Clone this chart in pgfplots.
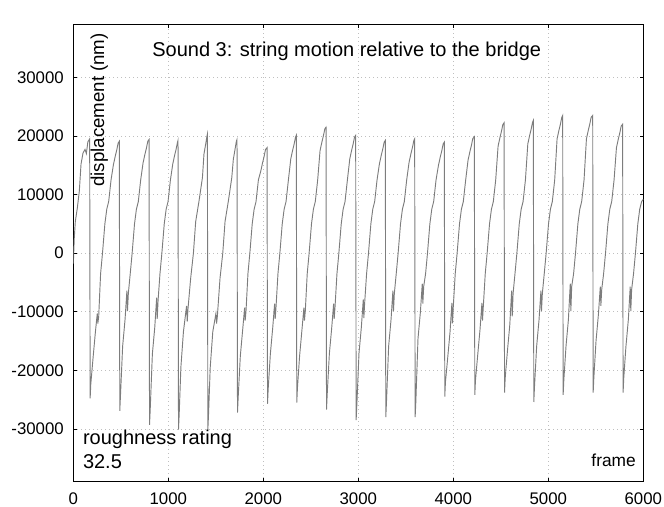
\documentclass[border=0pt]{standalone}
\usepackage{pgfplots}
\pgfplotsset{compat=1.18}
\usepackage{fontspec}
\setmainfont{Liberation Sans}

% string displacement relative to the bridge, one value per frame sample
\pgfplotstableread{
frame disp
0 -1800
10 2600
21 5400
42 7700
63 10600
81 15200
102 17100
123 17700
137 17000
153 19000
172 19500
177 -24800
184 -22300
207 -18000
232 -13500
252 -10300
258 -12000
267 -10800
287 -3500
307 0
332 5000
352 7500
372 8800
397 12500
422 15100
442 16600
457 17600
472 18800
484 19100
489 -26900
496 -24400
519 -15900
544 -11400
564 -6400
570 -9900
579 -6900
599 -3500
619 0
644 5000
664 7500
684 8800
709 12500
734 15400
754 16900
769 17900
784 19100
797 19400
802 -29300
809 -26800
832 -17200
857 -12700
877 -7600
883 -11200
892 -8100
912 -3500
932 0
957 5000
977 7500
997 8800
1022 12500
1047 15250
1067 16750
1082 17750
1097 18950
1102 19250
1107 -30100
1114 -27600
1132 -19500
1159 -13400
1192 -9000
1199 -11700
1207 -9500
1235 -4300
1264 0
1288 5400
1323 8900
1359 12900
1375 16900
1393 18600
1407 20000
1411 20300
1416 -30100
1423 -27600
1441 -19500
1468 -13400
1501 -10300
1508 -12000
1516 -10800
1544 -4300
1573 0
1597 5400
1632 8900
1668 12900
1684 16000
1702 17700
1716 19100
1723 19400
1728 -27200
1735 -24700
1758 -17500
1783 -13000
1803 -9300
1809 -11500
1818 -9800
1838 -3500
1858 0
1883 5000
1903 7500
1923 8800
1948 12500
1973 14000
1993 15500
2008 16500
2023 17700
2039 18000
2044 -25700
2051 -23200
2074 -17200
2099 -12700
2119 -8600
2125 -11200
2134 -9100
2154 -3500
2174 0
2199 5000
2219 7500
2239 8800
2264 12500
2289 16100
2309 17600
2324 18600
2339 19800
2347 20100
2352 -25500
2359 -23000
2382 -17500
2407 -13000
2427 -9300
2433 -11500
2442 -9800
2462 -3500
2482 0
2507 5000
2527 7500
2547 8800
2572 12500
2597 17500
2617 19000
2632 20000
2647 21200
2660 21500
2665 -26700
2672 -24200
2695 -17200
2720 -12700
2740 -8600
2746 -11200
2755 -9100
2775 -3500
2795 0
2820 5000
2840 7500
2860 8800
2885 12500
2910 16100
2930 17600
2945 18600
2960 19800
2972 20100
2977 -28500
2984 -26000
3007 -17100
3032 -12600
3052 -7900
3058 -11100
3067 -8400
3087 -3500
3107 0
3132 5000
3152 7500
3172 8800
3197 12500
3222 15250
3242 16750
3257 17750
3272 18950
3284 19250
3289 -28000
3296 -25500
3319 -15900
3344 -11400
3364 -6400
3370 -9900
3379 -6900
3399 -3500
3419 0
3444 5000
3464 7500
3484 8800
3509 12500
3534 15500
3554 17000
3569 18000
3584 19200
3593 19500
3598 -28000
3605 -25500
3628 -14600
3653 -10100
3673 -5200
3679 -8600
3688 -5700
3708 -3500
3728 0
3753 5000
3773 7500
3793 8800
3818 12500
3843 14950
3863 16450
3878 17450
3893 18650
3905 18950
3910 -24500
3917 -22000
3940 -18000
3965 -13500
3985 -8500
3991 -12000
4000 -9000
4020 -3500
4040 0
4065 5000
4085 7500
4105 8800
4130 12500
4155 15870
4175 17370
4190 18370
4205 19570
4221 19870
4226 -24200
4233 -21700
4256 -17500
4281 -13000
4301 -8500
4307 -11500
4316 -9000
4336 -3500
4356 0
4381 5000
4401 7500
4421 8800
4446 12500
4471 18250
4491 19750
4506 20750
4521 21950
4534 22250
4539 -23800
4546 -21300
4569 -16800
4594 -12300
4614 -6400
4620 -10800
4629 -6900
4649 -3500
4669 0
4694 5000
4714 7500
4734 8800
4759 12500
4784 18650
4804 20150
4819 21150
4834 22350
4842 22650
4847 -25400
4854 -22900
4877 -15900
4902 -11400
4922 -6400
4928 -9900
4937 -6900
4957 -3500
4977 0
5002 5000
5022 7500
5042 8800
5067 12500
5092 19500
5112 21000
5127 22000
5142 23200
5151 23500
5156 -24200
5163 -21700
5186 -15900
5211 -11400
5231 -5200
5237 -9900
5246 -5700
5266 -3500
5286 0
5311 5000
5331 7500
5351 8800
5376 12500
5401 19500
5421 21000
5436 22000
5451 23200
5467 23500
5472 -23800
5479 -21300
5502 -15000
5527 -10500
5547 -5700
5553 -9000
5562 -6200
5582 -3500
5602 0
5627 5000
5647 7500
5667 8800
5692 12500
5717 18000
5737 19500
5752 20500
5767 21700
5782 22000
5787 -23800
5794 -21300
5817 -15900
5842 -11400
5862 -5700
5868 -9900
5877 -6200
5897 -3500
5917 0
5942 5000
5962 7500
5982 8800
6000 9200
}\stringmotion

\begin{document}
\begin{tikzpicture}[x=1pt,y=1pt]
\begin{axis}[
  at={(0,0)}, anchor=south west,
  scale only axis, width=427.5pt, height=342.75pt,
  xmin=0, xmax=6000, ymin=-39000, ymax=39000,
  xtick={0,1000,...,6000},
  ytick={-30000,-20000,...,30000},
  scaled ticks=false,
  /pgf/number format/1000 sep={},
  /pgf/number format/assume math mode=true,
  tick align=inside, major tick length=2.5pt,
  tick style={black, line width=0.6pt},
  axis line style={black, line width=0.9pt},
  grid=major,
  major grid style={black!25, line width=0.5pt, dash pattern=on 0.75pt off 2.25pt},
  ticklabel style={font=\fontsize{12.6}{15}\selectfont},
  xticklabel style={inner sep=0pt, anchor=north, yshift=-8.25pt},
  yticklabel style={inner sep=0pt, anchor=east, xshift=-7pt},
]
\addplot[color={rgb,255:red,125;green,125;blue,125}, line width=0.7pt] table[x=frame, y=disp] {\stringmotion};

\node[anchor=base, inner sep=0pt, font=\fontsize{15}{18}\selectfont]
  at (rel axis cs:0.4796,0.93) {Sound 3: string motion relative to the bridge};
\node[anchor=base, rotate=90, inner sep=0pt, font=\fontsize{14}{17}\selectfont]
  at (rel axis cs:0.054,0.8133) {displacement (nm)};
\node[anchor=base west, inner sep=0pt, font=\fontsize{15}{18}\selectfont]
  at (rel axis cs:0.0165,0.0803) {roughness rating};
\node[anchor=base west, inner sep=0pt, font=\fontsize{15}{18}\selectfont]
  at (rel axis cs:0.0165,0.0278) {32.5};
\node[anchor=base east, inner sep=0pt, font=\fontsize{13}{16}\selectfont]
  at (rel axis cs:0.9872,0.0328) {frame};
\end{axis}
% fixed canvas around the axis box
\pgfresetboundingbox
\useasboundingbox (-55,-18.75) rectangle (443,361.25);
\end{tikzpicture}
\end{document}
